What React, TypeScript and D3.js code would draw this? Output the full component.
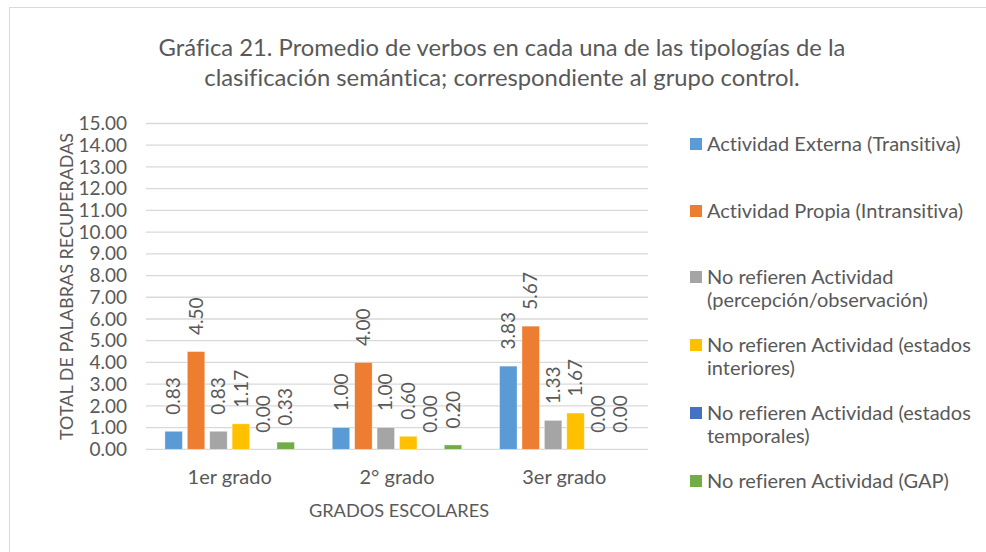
import React from "react";
import * as d3 from "d3";

const categories = ["1er grado", "2° grado", "3er grado"];
const seriesNames = [
  "Actividad Externa (Transitiva)",
  "Actividad Propia (Intransitiva)",
  "No refieren Actividad (percepción/observación)",
  "No refieren Actividad (estados interiores)",
  "No refieren Actividad (estados temporales)",
  "No refieren Actividad (GAP)",
];
const legendLines = [
  ["Actividad Externa (Transitiva)"],
  ["Actividad Propia (Intransitiva)"],
  ["No refieren Actividad", "(percepción/observación)"],
  ["No refieren Actividad (estados", "interiores)"],
  ["No refieren Actividad (estados", "temporales)"],
  ["No refieren Actividad (GAP)"],
];
const colors = ["#5B9BD5", "#ED7D31", "#A5A5A5", "#FFC000", "#4472C4", "#70AD47"];
// values[series][category]
const actividadExterna = [0.83, 1.0, 3.83];
const actividadPropia = [4.5, 4.0, 5.67];
const percepcion = [0.83, 1.0, 1.33];
const estadosInteriores = [1.17, 0.6, 1.67];
const estadosTemporales = [0.0, 0.0, 0.0];
const gap = [0.33, 0.2, 0.0];
const values = [actividadExterna, actividadPropia, percepcion, estadosInteriores, estadosTemporales, gap];
const yTicks = d3.range(0, 16, 1);
const titleLines = [
  "Gráfica 21. Promedio de verbos en cada una de las tipologías de la",
  "clasificación semántica; correspondiente al grupo control.",
];

const FONT = "Lato, 'Open Sans', sans-serif";
const TEXT = "#595959";

export default function App() {
  const W = 986, H = 552;
  const plot = { left: 146, right: 648, top: 123.5, bottom: 449.3 };
  const x0 = d3.scaleBand<string>().domain(categories).range([plot.left, plot.right]);
  const groupW = 129.5;
  const x1 = d3
    .scaleBand<number>()
    .domain(d3.range(seriesNames.length))
    .range([-groupW / 2, groupW / 2])
    .paddingInner(0.22);
  const y = d3.scaleLinear().domain([0, 15]).range([plot.bottom, plot.top]);

  return (
    <svg
      width={W}
      height={H}
      style={{ position: "absolute", left: 0, top: 0, fontFamily: FONT, fontVariantLigatures: "none" }}
    >
      <rect x={0} y={0} width={W} height={H} fill="#fff" />
      <rect x={9.5} y={7.5} width={W + 10} height={H + 10} fill="#fff" stroke="#d9d9d9" strokeWidth={1} />
      {titleLines.map((t, i) => (
        <text key={i} x={502} y={56 + i * 30} textAnchor="middle" fontSize={23.8} fill={TEXT}>
          {t}
        </text>
      ))}
      {yTicks.map((t) => (
        <g key={t}>
          <line x1={plot.left} x2={plot.right} y1={y(t)} y2={y(t)} stroke="#d9d9d9" strokeWidth={1.3} />
          <text x={127} y={y(t)} dy="0.35em" textAnchor="end" fontSize={19} fill={TEXT}>
            {t.toFixed(2)}
          </text>
        </g>
      ))}
      {categories.map((c, ci) => {
        const cx = x0(c)! + x0.bandwidth() / 2;
        return (
          <g key={c}>
            {values.map((vals, si) => {
              const v = vals[ci];
              const bx = cx + x1(si)!;
              const bw = x1.bandwidth();
              const top = y(v);
              return (
                <g key={si}>
                  {v > 0 && (
                    <rect
                      x={bx}
                      y={top}
                      width={bw}
                      height={plot.bottom - top}
                      fill={colors[si]}
                      stroke="#fff"
                      strokeOpacity={0.5}
                      strokeWidth={0.7}
                    />
                  )}
                  <text
                    transform={`translate(${bx + bw / 2},${top - 16.5}) rotate(-90)`}
                    dy="0.35em"
                    textAnchor="start"
                    fontSize={19}
                    fill={TEXT}
                  >
                    {v.toFixed(2)}
                  </text>
                </g>
              );
            })}
            <text x={cx} y={484} textAnchor="middle" fontSize={20} fill={TEXT}>
              {c}
            </text>
          </g>
        );
      })}
      <text x={399} y={517} textAnchor="middle" fontSize={18.2} fill={TEXT}>
        GRADOS ESCOLARES
      </text>
      <text
        transform={`translate(67,${(plot.top + plot.bottom) / 2}) rotate(-90)`}
        dy="0.35em"
        textAnchor="middle"
        fontSize={18}
        fill={TEXT}
      >
        TOTAL DE PALABRAS RECUPERADAS
      </text>
      {legendLines.map((lines, i) => {
        const ys = [144, 211, 277, 345, 413, 481];
        const yc = ys[i];
        return (
          <g key={i}>
            <rect x={690} y={yc - 6} width={12} height={12} fill={colors[i]} />
            {lines.map((l, li) => (
              <text key={li} x={707} y={yc + li * 23} dy="0.35em" fontSize={20} fill={TEXT}>
                {l}
              </text>
            ))}
          </g>
        );
      })}
    </svg>
  );
}
